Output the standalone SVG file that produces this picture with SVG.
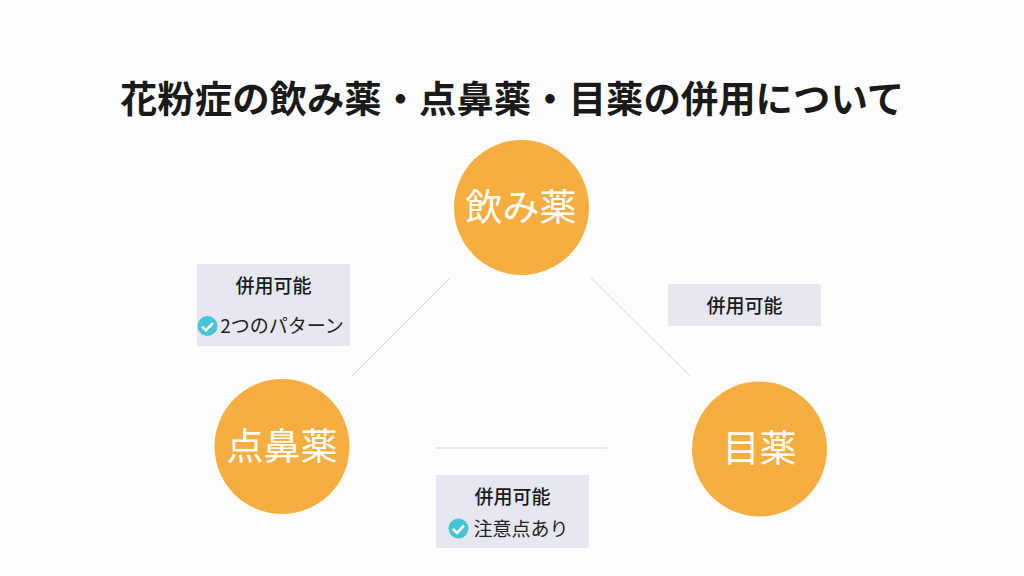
<svg xmlns="http://www.w3.org/2000/svg" width="1024" height="576" viewBox="0 0 1024 576">
<style>
text{font-family:"Noto Sans CJK JP","Noto Sans",sans-serif;text-anchor:middle}
.t{font-size:37.400px;font-weight:700;fill:#1a1a1a}
.c{fill:#f6ae41}
.n{font-size:37px;fill:#fff;font-weight:400}
.b{fill:#e6e7f1}
.l{font-size:19px;font-weight:500;fill:#1a1a1a}
.s{font-size:19px;fill:#222}
.k{fill:#45c5d6}
.m{fill:none;stroke:#fff;stroke-width:2.600}
.e{stroke:#d4d4d4;stroke-width:1;fill:none}
</style>
<rect width="1024" height="576" fill="#fdfdfd"/>
<text class="t" x="512" y="113">花粉症の飲み薬・点鼻薬・目薬の併用について</text>
<g id="connectors">
<line class="e" x1="450" y1="278" x2="352" y2="376"/>
<line class="e" x1="591" y1="278" x2="690" y2="376"/>
<line class="e" x1="436" y1="448" x2="607" y2="448"/>
</g>
<g id="node-nomi"><circle class="c" cx="521.500" cy="207.500" r="67.500"/><text class="n" x="521" y="221">飲み薬</text></g>
<g id="node-tenbi"><circle class="c" cx="282" cy="446.500" r="67.500"/><text class="n" x="282" y="460">点鼻薬</text></g>
<g id="node-me"><circle class="c" cx="759.500" cy="449" r="67.500"/><text class="n" x="759.500" y="462">目薬</text></g>
<g id="label-left"><rect class="b" x="197" y="264" width="153" height="82"/><text class="l" x="273.500" y="293">併用可能</text><circle class="k" cx="207.500" cy="326" r="10"/><path class="m" d="M202 326.500l4 4 7-7.500"/><text class="s" x="282" y="333">2つのパターン</text></g>
<g id="label-right"><rect class="b" x="668" y="284" width="153" height="42"/><text class="l" x="744.500" y="313">併用可能</text></g>
<g id="label-bottom"><rect class="b" x="436" y="475" width="153" height="73"/><text class="l" x="512.500" y="504">併用可能</text><circle class="k" cx="458.500" cy="528.500" r="10"/><path class="m" d="M453 529l4 4 7-7.500"/><text class="s" x="521" y="536">注意点あり</text></g>
</svg>
